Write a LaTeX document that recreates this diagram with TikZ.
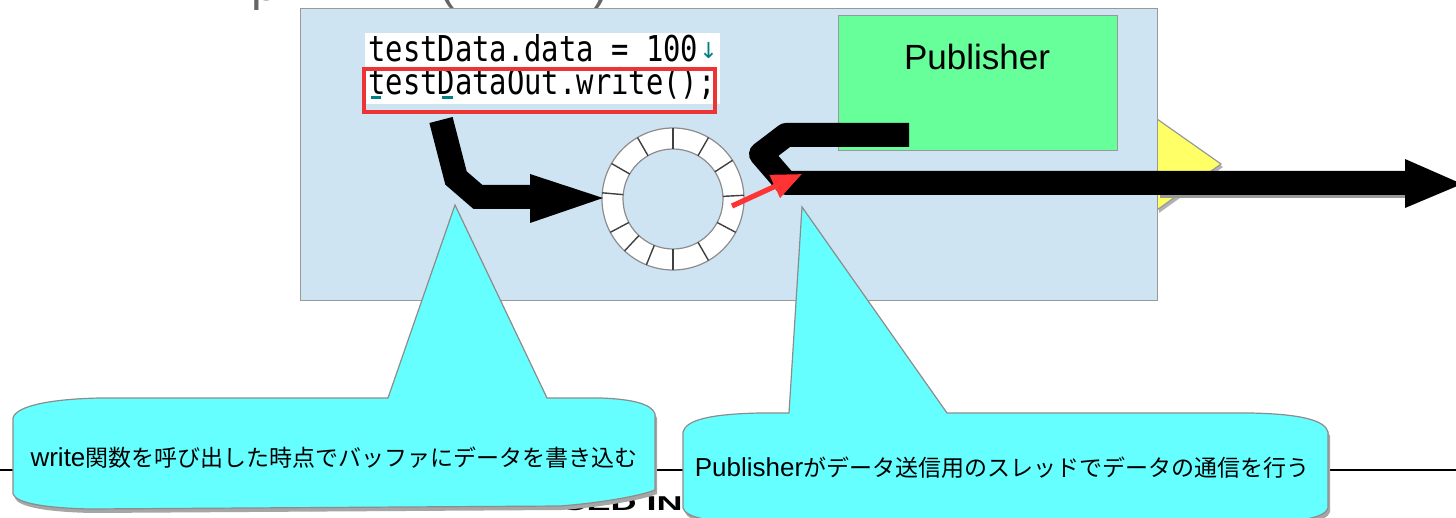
\documentclass[tikz,border=0pt]{standalone}
\usepackage{fontspec}
\usepackage{graphicx}
\setmainfont{Liberation Sans}
\newfontfamily\jp{Noto Sans CJK JP}
\newfontfamily\codefont{DejaVu Sans Mono}
\newfontfamily\dvs{DejaVu Sans}
\usetikzlibrary{arrows.meta,calc}
\definecolor{boxblue}{RGB}{207,228,242}
\definecolor{pubgreen}{RGB}{102,255,153}
\definecolor{callcyan}{RGB}{102,255,255}
\definecolor{triyellow}{RGB}{255,255,102}
\definecolor{codered}{RGB}{236,52,52}
\definecolor{arrred}{RGB}{255,51,51}
\definecolor{imeteal}{RGB}{0,128,128}
\tikzset{
  edgegray/.style={draw=black!40, line width=0.6pt},
  bigarrow/.style={draw=black, line width=12pt, line join=miter},
  headfill/.style={fill=black},
  callout/.style={fill=callcyan, draw=black!45, line width=0.6pt},
  calloutshadow/.style={fill=black!35},
  codetext/.style={anchor=base west, inner sep=0pt},
  calltext/.style={inner sep=0pt, text=black}
}
\begin{document}
\begin{tikzpicture}[x=0.5pt,y=-0.5pt]
\useasboundingbox (0,0) rectangle (1456,518);
\fill[white] (0,0) rectangle (1456,518);

% cut-off title fragments at the very top
\begin{scope}
\clip (0,0) rectangle (1456,16);
\node[anchor=base, inner sep=0pt, text=black!60, font=\fontsize{24}{24}\selectfont] (tp) at (265,1) {p};
\node[anchor=base, inner sep=0pt, text=black!60, font=\fontsize{24}{24}\selectfont] (tl) at (447,0) {(};
\node[anchor=base, inner sep=0pt, text=black!60, font=\fontsize{24}{24}\selectfont] (tr) at (600,1) {)};
\end{scope}

% footer line and footer text (mostly hidden by callouts)
\coordinate (fl) at (0,470);
\coordinate (fr) at (1456,470);
\draw[line width=1.2pt] (fl) -- (fr);
\node[anchor=base east, inner sep=0pt] (foot) at (683,510) {\scalebox{1.8}[1]{\bfseries\fontsize{10}{12}\selectfont ADVANCED IN}};

% yellow triangle behind arrow
\coordinate (ya) at (1157,119);
\coordinate (yb) at (1221,164);
\coordinate (yc) at (1157,210);
\fill[black!30] ([shift={(2,3)}]ya) -- ([shift={(2,3)}]yb) -- ([shift={(2,3)}]yc) -- cycle;
\fill[triyellow, edgegray] (ya) -- (yb) -- (yc) -- cycle;

% component box
\node[fill=boxblue, edgegray, minimum width=428.5pt, minimum height=146pt, inner sep=0pt, anchor=north west] (comp) at (300,8) {};

% code
\fill[white] (365,33) rectangle (720,104);
\node[codetext] (code1) at (368,62) {\scalebox{0.81}[1]{\codefont\fontsize{17.8}{20}\selectfont testData.data = 100}};
\node[anchor=base west, inner sep=0pt, text=imeteal, font=\dvs\fontsize{11}{12}\selectfont] (ret) at (699,59) {↓};
\node[codetext] (code2) at (368,95) {\scalebox{0.81}[1]{\codefont\fontsize{17.8}{20}\selectfont testDataOut.write();}};
\draw[imeteal, line width=1.5pt] (371,98) -- (381,98);
\draw[imeteal, line width=1.5pt] (442,98) -- (453,98);
\node[draw=codered, line width=2pt, minimum width=175.5pt, minimum height=21.5pt, inner sep=0pt, anchor=north west] (redbox) at (362,67) {};

% Publisher
\node[fill=pubgreen, edgegray, minimum width=139.5pt, minimum height=67.5pt, inner sep=0pt, anchor=north west] (pub) at (838,15) {};
\node[inner sep=0pt, font=\fontsize{17.5}{20}\selectfont] (publbl) at (977,57) {Publisher};

% ring buffer
\coordinate (rc) at (673,199);
\fill[white, even odd rule] (rc) circle (71) (rc) circle (50);
\draw[black!45, line width=0.6pt] (rc) circle (71) (rc) circle (50);
\foreach \a in {-90,-60,-33,-3,28,60,90,112,133,152,185,210,240}
  \draw[black!75, line width=0.7pt] ($(rc)+(\a:50)$) -- ($(rc)+(\a:71)$);

% arrow 1: write -> buffer
\coordinate (a1s) at (441,120);
\coordinate (a1b) at (456,178);
\coordinate (a1c) at (478,197);
\coordinate (a1e) at (535,197);
\coordinate (h1a) at (530,174);
\coordinate (h1t) at (603,198);
\coordinate (h1b) at (530,223);
\draw[bigarrow] (a1s) -- (a1b) -- (a1c) -- (a1e);
\fill[headfill] (h1a) -- (h1t) -- (h1b) -- cycle;

% arrow 2: publisher -> out
\coordinate (a2s) at (909,135);
\coordinate (a2b) at (786,135);
\coordinate (a2c) at (761,154);
\coordinate (a2d) at (786,183);
\coordinate (a2e) at (1410,183);
\coordinate (h2a) at (1405,159);
\coordinate (h2t) at (1462,184);
\coordinate (h2b) at (1405,208);
\draw[black!40, line width=12pt] (1160,186) -- (1410,186);
\draw[bigarrow, line join=round] (a2s) -- (a2b) -- (a2c) -- (a2d) -- (a2e);
\fill[headfill] (h2a) -- (h2t) -- (h2b) -- cycle;

% red arrow
\coordinate (ra) at (732,206);
\coordinate (rb) at (802,174);
\draw[arrred, line width=2.6pt, -{Triangle[length=15pt,width=12pt]}] (ra) -- (rb);

% callout 1
\coordinate (c1tip) at (455,205);
\def\cone{(c1tip) -- (547,398) -- (600,398) .. controls (632,399) and (652,404) .. (655,414) -- (655,490) .. controls (640,496) and (600,503) .. (560,506) -- (90,509) .. controls (45,508) and (16,503) .. (13,494) -- (13,418) .. controls (16,406) and (50,399) .. (100,398) -- (388,398) -- cycle}
\fill[calloutshadow, shift={(2,4)}] \cone;
\path[callout] \cone;
\node[calltext] (t1) at (334,458) {{\fontsize{13}{15}\selectfont write}{\jp\fontsize{11.5}{15}\selectfont 関数を呼び出した時点でバッファにデータを書き込む}};

% callout 2
\coordinate (c2tip) at (802,207);
\def\ctwo{(c2tip) -- (947,413) -- (1250,413) .. controls (1300,414) and (1325,420) .. (1328,432) -- (1328,508) .. controls (1325,518) and (1300,522) .. (1250,524) -- (760,524) .. controls (710,522) and (686,518) .. (683,508) -- (683,432) .. controls (686,420) and (710,414) .. (760,413) -- (789,413) -- cycle}
\fill[calloutshadow, shift={(2,4)}] \ctwo;
\path[callout] \ctwo;
\node[calltext] (t2) at (1002,468) {{\fontsize{13}{15}\selectfont Publisher}{\jp\fontsize{11.5}{15}\selectfont がデータ送信用のスレッドでデータの通信を行う}};
\end{tikzpicture}
\end{document}
